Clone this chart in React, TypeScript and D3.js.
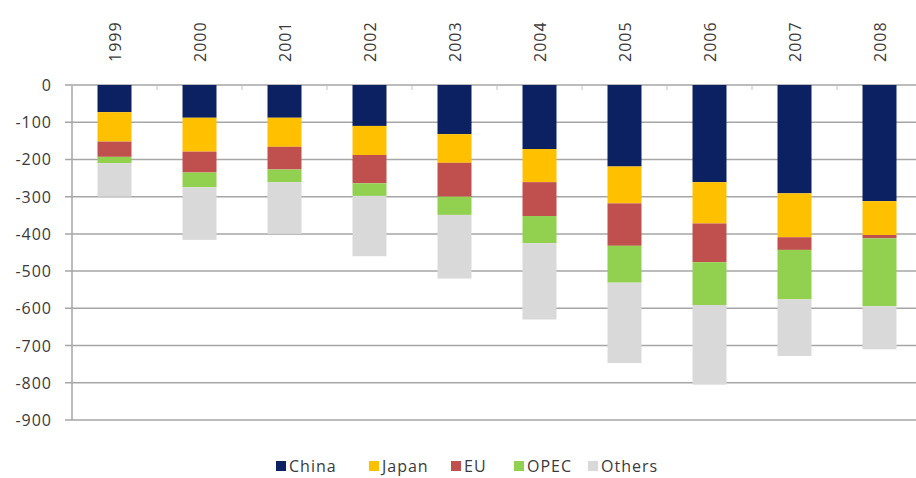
import React from "react";
import * as d3 from "d3";

const years = ["1999", "2000", "2001", "2002", "2003", "2004", "2005", "2006", "2007", "2008"];
const seriesNames = ["China", "Japan", "EU", "OPEC", "Others"];
const china = [73, 88, 88, 110, 132, 172, 219, 261, 291, 312];
const japan = [79, 91, 78, 78, 77, 89, 99, 111, 118, 91];
const eu = [41, 56, 61, 76, 91, 91, 114, 104, 34, 9];
const opec = [17, 40, 34, 34, 49, 73, 99, 115, 133, 182];
const others = [90, 141, 139, 162, 171, 205, 216, 214, 152, 116];
const yTicks = [0, -100, -200, -300, -400, -500, -600, -700, -800, -900];
const colors = ["#0c2161", "#ffc000", "#c0504d", "#92d050", "#d9d9d9"];

const W = 916;
const H = 478;
const plot = { left: 72, right: 922, top: 85, bottom: 420 };
const legendX = [276, 369, 451, 514, 588];
const font = "'Open Sans', 'DejaVu Sans', sans-serif";

export default function App() {
  const rows = years.map((y, i) => ({
    year: y,
    China: china[i],
    Japan: japan[i],
    EU: eu[i],
    OPEC: opec[i],
    Others: others[i],
  }));
  const stack = d3.stack<any>().keys(seriesNames);
  const layers = stack(rows);

  const x = d3.scaleBand().domain(years).range([plot.left, plot.right]).paddingInner(0.6).paddingOuter(0.3);
  const step = x.step();
  const y = d3.scaleLinear().domain([0, -900]).range([plot.top, plot.bottom]);

  return (
    <svg width={W} height={H} style={{ position: "absolute", left: 0, top: 0, background: "#fff" }}>
      {yTicks.map((t) => (
        <line key={t} x1={plot.left - 7} x2={W} y1={y(t)} y2={y(t)} stroke="#a6a6a6" strokeWidth={1.5} />
      ))}
      <line x1={plot.left} x2={plot.left} y1={y(0)} y2={plot.bottom} stroke="#a6a6a6" strokeWidth={1.5} />
      {d3.range(years.length + 1).map((k) => {
        const xx = plot.left + k * step;
        return <line key={k} x1={xx} x2={xx} y1={y(0)} y2={y(0) + 5} stroke="#c0c0c0" strokeWidth={1} />;
      })}
      {layers.map((layer, li) => (
        <g key={layer.key} fill={colors[li]}>
          {layer.map((d, i) => (
            <rect
              key={i}
              x={x(years[i])}
              width={x.bandwidth()}
              y={y(-d[0])}
              height={y(-d[1]) - y(-d[0])}
            />
          ))}
        </g>
      ))}
      {yTicks.map((t) => (
        <text
          key={t}
          x={52}
          y={y(t)}
          textAnchor="end"
          dominantBaseline="central"
          fontFamily={font}
          fontSize={16}
          letterSpacing={1}
          fill="#3a3a3a"
        >
          {t}
        </text>
      ))}
      {years.map((yr) => {
        const cx = (x(yr) as number) + x.bandwidth() / 2;
        return (
          <text
            key={yr}
            transform={`translate(${cx},62) rotate(-90)`}
            textAnchor="start"
            dominantBaseline="central"
            fontFamily={font}
            fontSize={16}
            letterSpacing={1}
            fill="#3a3a3a"
          >
            {yr}
          </text>
        );
      })}
      {seriesNames.map((s, i) => (
        <g key={s} transform={`translate(${legendX[i]},466)`}>
          <rect x={0} y={-5} width={10} height={10} fill={colors[i]} />
          <text
            x={13}
            y={0}
            dominantBaseline="central"
            fontFamily={font}
            fontSize={16}
            letterSpacing={1}
            fill="#3a3a3a"
          >
            {s}
          </text>
        </g>
      ))}
    </svg>
  );
}
